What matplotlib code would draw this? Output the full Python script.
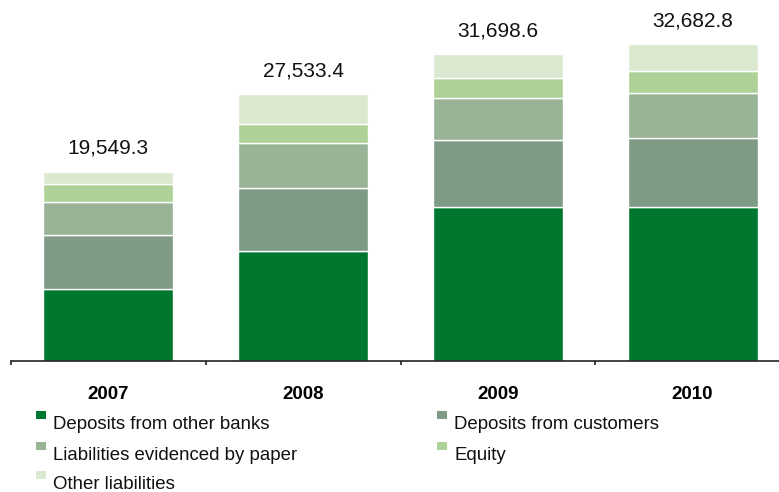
import matplotlib
matplotlib.use("Agg")
import matplotlib.pyplot as plt
from matplotlib.patches import Rectangle
import numpy as np

plt.rcParams["font.family"] = ["Liberation Sans", "DejaVu Sans"]

# ---------------------------
# Data (EUR m)
# ---------------------------
years = ["2007", "2008", "2009", "2010"]
totals = [19549.3, 27533.4, 31698.6, 32682.8]

series_names = [
    "Deposits from other banks",
    "Deposits from customers",
    "Liabilities evidenced by paper",
    "Equity",
    "Other liabilities",
]
deposits_banks = [7475, 11345, 15843, 15855]
deposits_customers = [5575, 6539, 6925, 7104]
liabilities_paper = [3353, 4567, 4341, 4684]
equity = [1900, 2014, 2067, 2316]
other_liabilities = [1246, 3068, 2522, 2724]

colors = ["#00772F", "#7F9B86", "#99B396", "#ADD197", "#DAE9D0"]

W, H = 779, 492
fig = plt.figure(figsize=(W / 100, H / 100), dpi=100)


def fx(px):
    return px / W


def fy(py):
    return 1 - py / H


# axes spans from the first tick (x=11) to one full slot width past the image edge
ax = fig.add_axes([fx(11), fy(361), fx(779), 361 / H])

x = np.arange(len(years))
stack = [deposits_banks, deposits_customers, liabilities_paper, equity, other_liabilities]
bottom = np.zeros(len(years))
for vals, c in zip(stack, colors):
    ax.bar(x, vals, width=0.667, bottom=bottom, color=c,
           edgecolor="white", linewidth=1.0)
    bottom += np.array(vals)

for xi, t in zip(x, totals):
    ax.annotate(f"{t:,.1f}", (xi, t), xytext=(0, 12.7), textcoords="offset points",
                ha="center", va="baseline", fontsize=15, color="#111111")

ax.set_xlim(-0.5, 3.5)
ax.set_ylim(0, 37250)
ax.set_yticks([])
for s in ["top", "right", "left"]:
    ax.spines[s].set_visible(False)
ax.spines["bottom"].set_color("#222222")
ax.spines["bottom"].set_linewidth(1.2)

ax.set_xticks(x)
ax.set_xticklabels(years, fontsize=13.5, fontweight="bold")
ax.tick_params(axis="x", which="major", length=0, pad=18)
ax.set_xticks(np.arange(-0.5, 4, 1), minor=True)
ax.tick_params(axis="x", which="minor", length=3, width=1.2, color="#222222", direction="out")

# legend, two columns, drawn by hand
legend_pos = [(36, 411), (437, 411), (36, 442), (437, 442), (36, 471)]
for name, c, (px, py) in zip(series_names, colors, legend_pos):
    fig.add_artist(Rectangle((fx(px), fy(py + 8)), fx(10), 8 / H,
                             transform=fig.transFigure, color=c, lw=0))
    fig.text(fx(px + 17), fy(py + 18), name, fontsize=13.4, color="#111111",
             ha="left", va="baseline")

fig.savefig("out.png", dpi=100)
